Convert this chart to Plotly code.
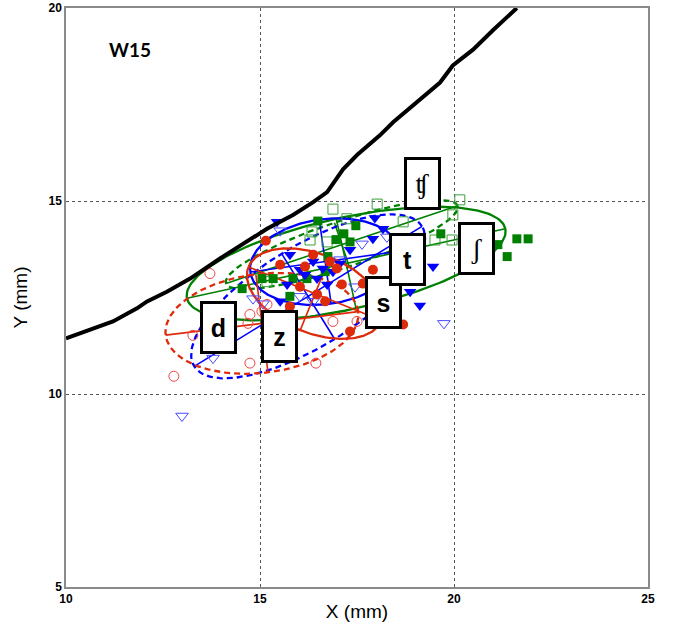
import numpy as np
import plotly.graph_objects as go

# ---------------- data (mm) ----------------
palate_x = [10.0, 11.21, 11.83, 12.09, 12.60, 13.20, 13.97, 14.66, 15.18, 15.85, 16.37, 16.73,
            17.14, 17.50, 18.09, 18.43, 18.94, 19.64, 19.97, 20.49, 21.01, 21.62]
palate_y = [11.44, 11.88, 12.22, 12.40, 12.65, 12.99, 13.51, 13.94, 14.28, 14.64, 14.97, 15.23,
            15.82, 16.19, 16.70, 17.04, 17.47, 18.07, 18.51, 18.92, 19.43, 20.0]

sh_x = [16.49, 17.47, 17.16, 17.32, 19.66, 21.13, 21.37, 21.62, 21.91, 14.54, 15.34, 15.85,
        16.21, 16.75, 15.77, 15.05, 16.96, 16.68]
sh_y = [14.48, 14.36, 14.15, 13.94, 14.15, 13.87, 13.56, 14.02, 14.02, 12.73, 12.99, 12.99,
        12.99, 13.56, 12.53, 12.99, 14.00, 13.17]

ch_x = [16.88, 18.02, 20.15, 19.97, 18.69, 19.51, 19.95, 16.34, 16.29, 16.73, 17.24, 15.18]
ch_y = [14.79, 14.92, 15.03, 14.64, 14.46, 13.99, 13.99, 14.20, 13.99, 13.94, 14.54, 12.91]

t_x = [15.44, 17.96, 18.17, 17.91, 17.32, 19.46, 18.87, 19.12, 15.77, 16.03, 16.37, 16.62,
       16.88, 16.47, 16.73, 15.70, 15.52, 16.16, 17.06]
t_y = [14.46, 14.56, 14.28, 14.02, 13.74, 13.30, 12.65, 12.29, 13.61, 13.22, 13.43, 13.25,
       13.17, 12.99, 12.84, 12.84, 12.40, 13.09, 13.38]

d_x = [15.52, 17.63, 18.27, 19.74, 14.82, 15.08, 12.99, 13.79, 17.06, 16.03, 17.45, 16.37]
d_y = [14.23, 13.89, 14.07, 11.83, 12.47, 12.34, 9.43, 10.93, 13.48, 12.53, 12.78, 12.40]

s_x = [15.15, 15.52, 16.37, 16.98, 17.91, 17.65, 17.11, 16.47, 18.69, 17.32, 16.03, 16.68,
       15.77, 16.80, 16.16]
s_y = [13.97, 13.35, 13.61, 13.25, 13.22, 12.86, 12.84, 12.58, 11.80, 11.62, 12.78, 12.40,
       12.27, 13.43, 13.30]

z_x = [12.78, 13.71, 17.50, 16.88, 14.74, 16.44, 13.27, 14.74, 15.05, 15.18, 14.69]
z_y = [10.46, 13.12, 11.88, 11.88, 10.80, 10.80, 11.52, 12.06, 12.14, 12.32, 11.83]

# ellipse parameters: centre x, centre y, semi-major, semi-minor, angle (deg)
ell_names = ["sh", "ch", "t", "d", "s", "z"]
ell_cx = [17.22, 17.11, 16.68, 16.24, 16.42, 15.05]
ell_cy = [13.38, 13.87, 13.43, 12.53, 12.60, 11.83]
ell_a = [4.20, 3.15, 1.95, 3.45, 1.85, 2.50]
ell_b = [1.19, 0.60, 1.10, 1.30, 1.02, 1.28]
ell_ang = [12.4, 18.6, 8.0, 31.7, -22.0, 7.0]

label_text = ["d", "z", "s", "t", "ʧ", "ʃ"]
label_x = [13.92, 15.49, 18.17, 18.81, 19.18, 20.57]
label_y = [11.73, 11.50, 12.37, 13.48, 15.46, 13.76]

GREEN = "#008000"
BLUE = "#0000ff"
RED = "#dd2a0a"

ell_color = [GREEN, GREEN, BLUE, BLUE, RED, RED]
ell_dash = ["solid", "6px,4px", "solid", "6px,4px", "solid", "6px,4px"]

fig = go.Figure()

# ellipses with axes
tt = np.linspace(0, 2 * np.pi, 200)
for cx, cy, a, b, ang, col, dash in zip(ell_cx, ell_cy, ell_a, ell_b, ell_ang, ell_color, ell_dash):
    th = np.deg2rad(ang)
    ex = cx + a * np.cos(th) * np.cos(tt) - b * np.sin(th) * np.sin(tt)
    ey = cy + a * np.sin(th) * np.cos(tt) + b * np.cos(th) * np.sin(tt)
    fig.add_trace(go.Scatter(x=ex, y=ey, mode="lines",
                             line=dict(color=col, width=2.3, dash=dash), hoverinfo="skip"))
    mx = [cx - a * np.cos(th), cx + a * np.cos(th), None, cx + b * np.sin(th), cx - b * np.sin(th)]
    my = [cy - a * np.sin(th), cy + a * np.sin(th), None, cy - b * np.cos(th), cy + b * np.cos(th)]
    fig.add_trace(go.Scatter(x=mx, y=my, mode="lines",
                             line=dict(color=col, width=1.6), hoverinfo="skip"))

# points
fig.add_trace(go.Scatter(x=ch_x, y=ch_y, mode="markers",
                         marker=dict(symbol="square-open", size=10, color="#3aa03a", line=dict(width=1))))
fig.add_trace(go.Scatter(x=d_x, y=d_y, mode="markers",
                         marker=dict(symbol="triangle-down-open", size=11, color="#4a4aff", line=dict(width=1))))
fig.add_trace(go.Scatter(x=z_x, y=z_y, mode="markers",
                         marker=dict(symbol="circle-open", size=10, color="#ee4444", line=dict(width=1))))
fig.add_trace(go.Scatter(x=sh_x, y=sh_y, mode="markers",
                         marker=dict(symbol="square", size=9, color=GREEN)))
fig.add_trace(go.Scatter(x=t_x, y=t_y, mode="markers",
                         marker=dict(symbol="triangle-down", size=11, color=BLUE)))
fig.add_trace(go.Scatter(x=s_x, y=s_y, mode="markers",
                         marker=dict(symbol="circle", size=10, color=RED)))

# palate
fig.add_trace(go.Scatter(x=palate_x, y=palate_y, mode="lines",
                         line=dict(color="black", width=4), hoverinfo="skip"))

# labels
for txt, lx, ly in zip(label_text, label_x, label_y):
    serif = txt in ("ʧ", "ʃ")
    fig.add_annotation(x=lx, y=ly, text=txt, showarrow=False,
                       font=dict(family="Liberation Serif" if serif else "Liberation Sans",
                                 size=28 if serif else 25, color="black",
                                 weight="normal" if serif else "bold"),
                       width=31, height=47, bgcolor="white",
                       bordercolor="black", borderwidth=3, borderpad=0)

fig.add_annotation(x=11.65, y=18.92, text="W15", showarrow=False,
                   font=dict(family="Lato", size=19, color="black", weight="bold"))

axis_common = dict(showline=True, linecolor="#8a8a8a", linewidth=1.5, mirror=True,
                   showgrid=True, gridcolor="#555555", griddash="dot", gridwidth=1,
                   zeroline=False, ticks="", ticklabeloverflow="allow",
                   tickfont=dict(family="Liberation Sans", size=12, color="black", weight="bold"))

fig.update_xaxes(range=[10, 25], tickvals=[10, 15, 20, 25], ticktext=["10", "15", "20", "25"],
                 title=dict(text="X (mm)", font=dict(family="Liberation Sans Narrow, Liberation Sans",
                                                     size=19, color="black"), standoff=0),
                 **axis_common)
fig.update_yaxes(range=[5, 20], tickvals=[5, 10, 15, 20], ticktext=["5", "10", "15", "20"],
                 title=dict(text="Y (mm)", font=dict(family="Liberation Sans Narrow, Liberation Sans",
                                                     size=19, color="black"), standoff=16),
                 **axis_common)

fig.update_layout(width=679, height=635,
                  margin=dict(l=66, r=31, t=8, b=48, autoexpand=False),
                  plot_bgcolor="white", paper_bgcolor="white", showlegend=False)

fig.write_html("out.html")
